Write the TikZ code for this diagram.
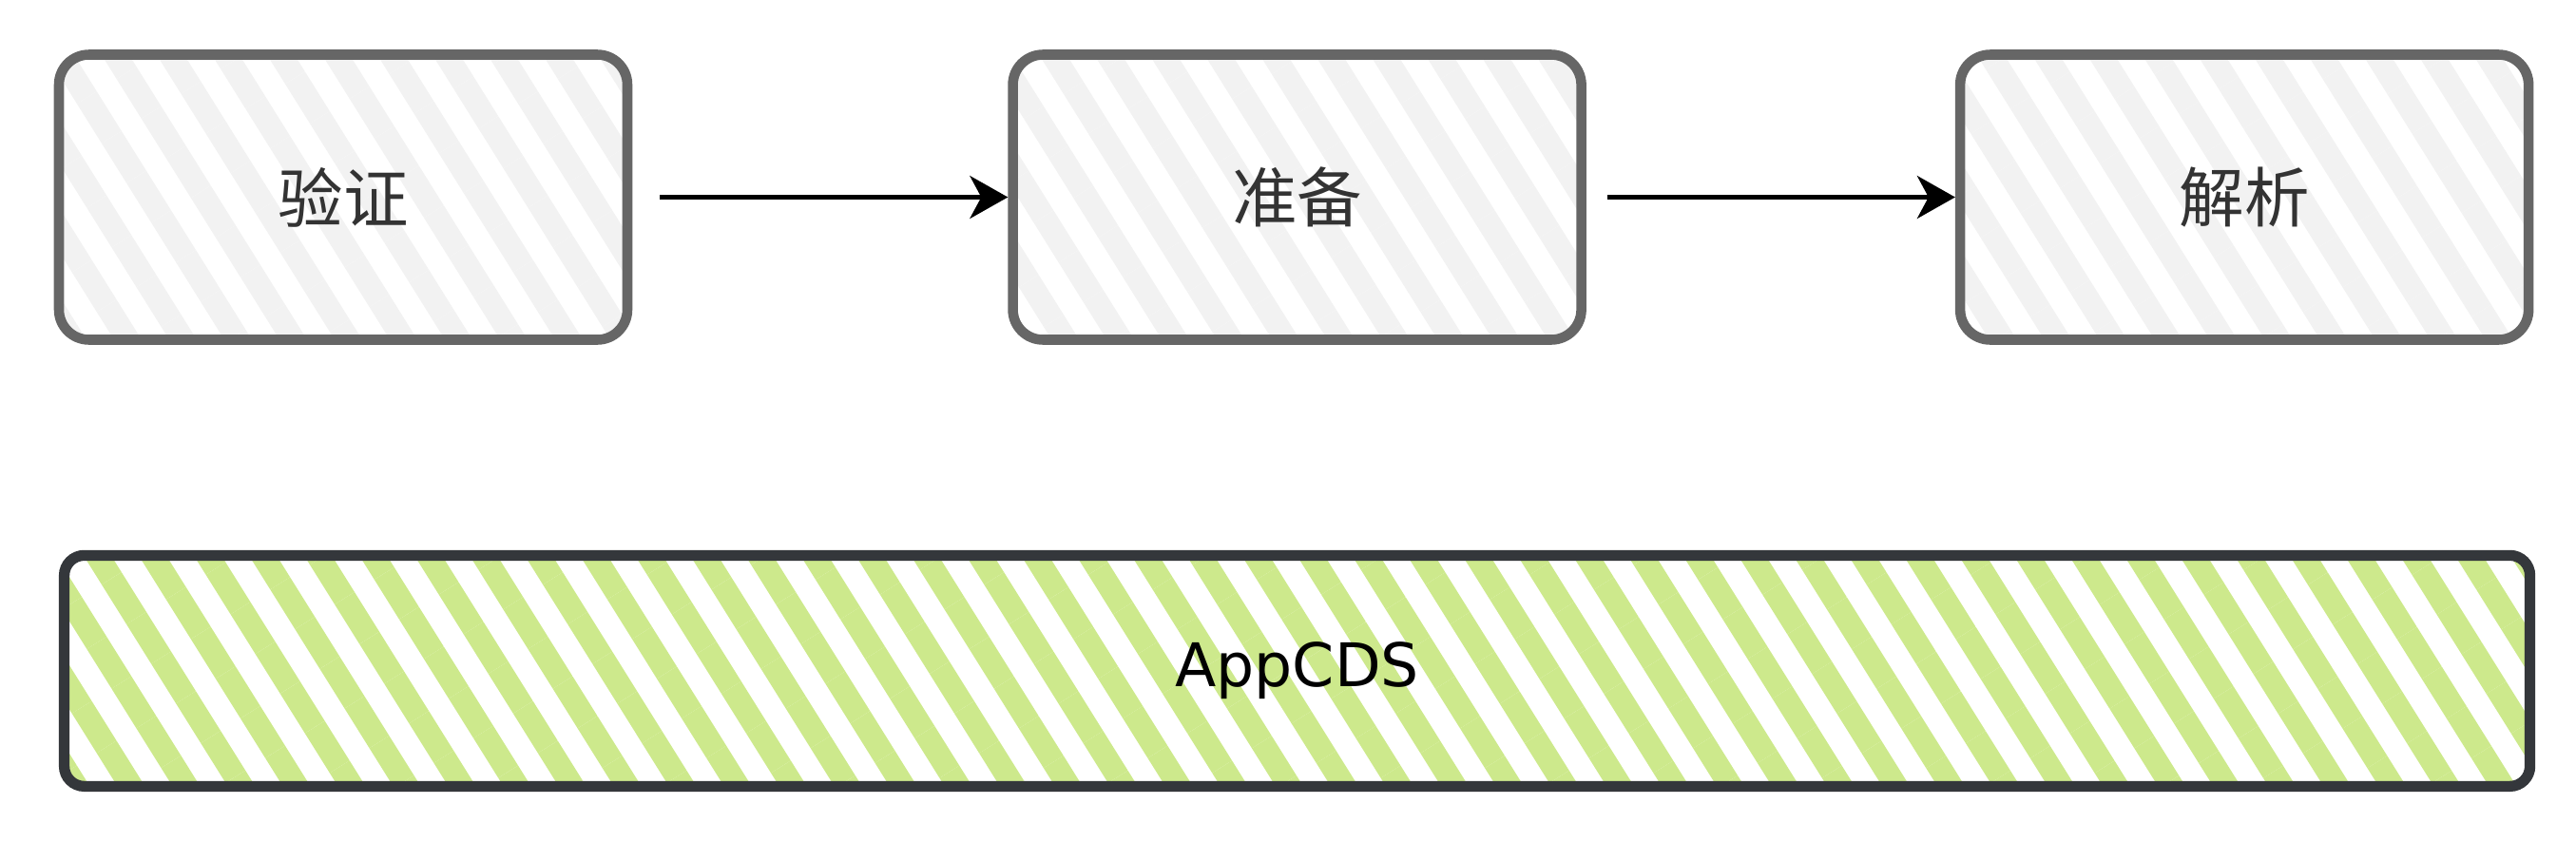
\documentclass[tikz,border=0pt]{standalone}
\usepackage{fontspec}
\newfontfamily\cjk{Noto Sans CJK SC}
\newfontfamily\hand{DejaVu Sans}
\usepackage{tikz}
\usetikzlibrary{positioning,arrows.meta,patterns.meta}
\definecolor{phaseline}{RGB}{102,102,102}
\definecolor{phasehatch}{RGB}{242,242,242}
\definecolor{phasetext}{RGB}{51,51,51}
\definecolor{cdsline}{RGB}{52,55,59}
\definecolor{cdshatch}{RGB}{205,233,140}
\tikzset{
    phase/.style={rectangle,draw=phaseline,line width=3pt,rounded corners=9pt,minimum width=59.8mm,minimum height=30mm,pattern={Lines[angle=-58,distance=14pt,line width=7pt]},pattern color=phasehatch,text=phasetext,font=\cjk\fontsize{19.5}{23}\selectfont},
    cache/.style={rectangle,draw=cdsline,line width=3.2pt,rounded corners=6pt,minimum width=259.4mm,minimum height=24.3mm,pattern={Lines[angle=-58,distance=14pt,line width=7pt]},pattern color=cdshatch,text=black,font=\hand\fontsize{18}{22}\selectfont},
    arr/.style={-{Stealth[length=4mm,width=4.5mm,inset=1.2mm]},line width=1.2pt,black,shorten <=2.2mm},
}

\begin{document}
\begin{tikzpicture}[node distance=38.8mm]
\useasboundingbox (0,0) rectangle (27.1,8.85);
\node[phase] (verify) at (3.61,6.775) {验证};
\node[phase,right=of verify] (prepare) {准备};
\node[phase,right=of prepare] (resolve) {解析};
\node[cache,below=21.6mm of prepare] (appcds) {AppCDS};

\draw[arr] (verify)  -- (prepare);
\draw[arr] (prepare) -- (resolve);
\end{tikzpicture}
\end{document}
